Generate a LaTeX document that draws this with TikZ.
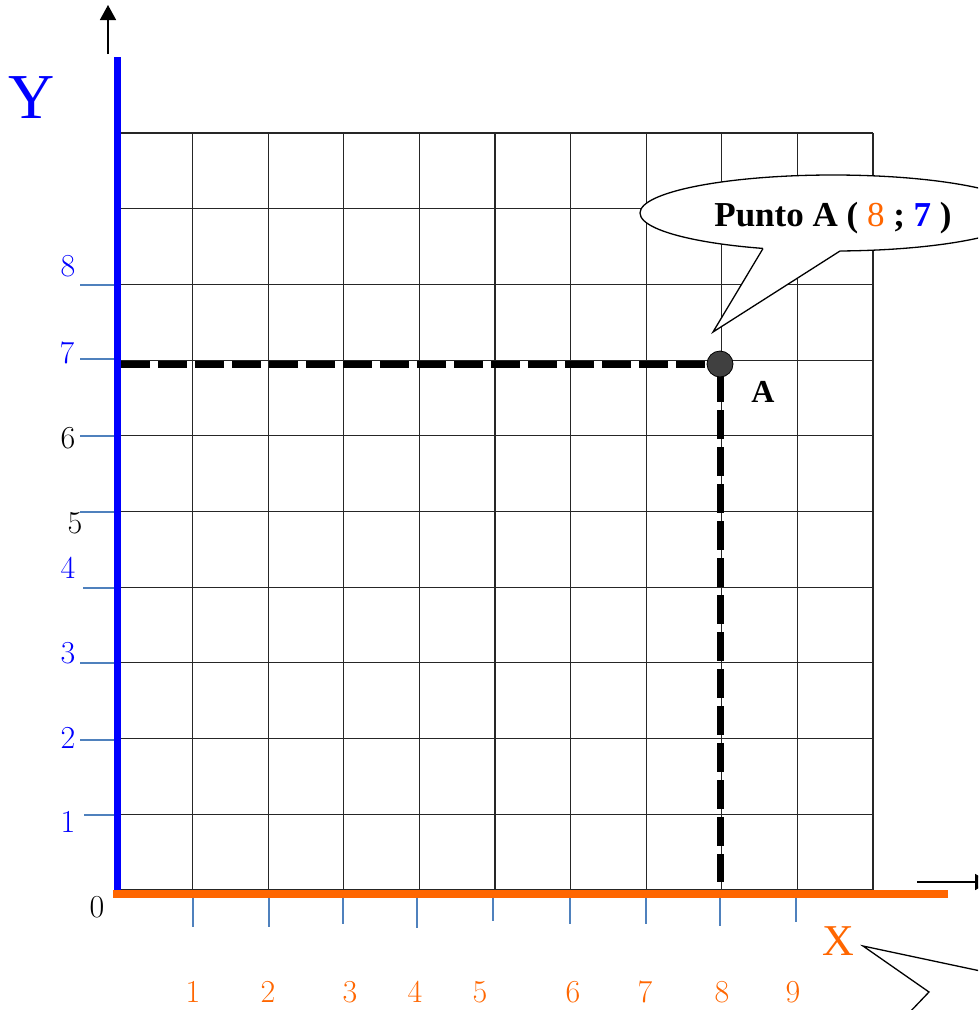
\documentclass[tikz,border=0pt]{standalone}
\usepackage{fontspec}
\newfontfamily\tms{Liberation Serif}
\usetikzlibrary{arrows.meta}
\definecolor{axblue}{RGB}{0,0,255}
\definecolor{axorange}{RGB}{255,102,0}
\definecolor{tickblue}{RGB}{79,129,189}
\definecolor{ptgray}{RGB}{64,64,64}
\tikzset{
  gridline/.style={draw=black!85, line width=1.1pt},
  tickline/.style={draw=tickblue, line width=2pt},
  ylab/.style={font=\fontsize{32}{32}\selectfont, text=axblue, inner sep=0pt},
  xlab/.style={font=\fontsize{32}{32}\selectfont, text=axorange, inner sep=0pt},
  blab/.style={font=\fontsize{32}{32}\selectfont, text=black, inner sep=0pt},
  dashline/.style={draw=black, line width=7pt, dash pattern=on 29pt off 8pt},
  callout/.style={draw=black, line width=1.3pt, fill=white},
}
\begin{document}
\begin{tikzpicture}[x=1pt,y=-1pt]
\useasboundingbox (0,0) rectangle (978,1010);
\clip (0,0) rectangle (978,1010);
% grid
\foreach \i in {0,...,10} {
  \draw[gridline] ({117+75.6*\i},133) -- ({117+75.6*\i},890);
  \draw[gridline] (117,{133+75.7*\i}) -- (873,{133+75.7*\i});
}
% left ticks
\foreach \y/\xa in {285/80,359/80,436/80,512/80,588/83,663/80,740/80,815/84} {
  \draw[tickline] (\xa,\y) -- (115,\y);
}
% bottom ticks
\foreach \x/\ye in {193/927,269/927,343/924,417/928,493/921,570/924,646/924,720/926,796/922} {
  \draw[tickline] (\x,893) -- (\x,\ye);
}
% axes
\draw[draw=axblue, line width=7pt] (117,57) -- (117,892);
\draw[draw=axorange, line width=8pt] (113,894) -- (948,894);
% axis arrows
\coordinate (ytail) at (108,54);
\coordinate (yhead) at (108,5);
\draw[line width=1.5pt, -{Triangle[length=15pt,width=16pt]}] (ytail) -- (yhead);
\coordinate (xtail) at (917,882);
\coordinate (xhead) at (990,882);
\draw[line width=1.5pt, -{Triangle[length=15pt,width=16pt]}] (xtail) -- (xhead);
% axis labels
\node[font=\tms\fontsize{64}{64}\selectfont, text=axblue, inner sep=0pt] (Ylab) at (32,98) {Y};
\node[font=\tms\fontsize{44}{44}\selectfont, text=axorange, inner sep=0pt] (Xlab) at (838,941) {X};
% y tick labels
\node[ylab] (y8) at (68,266) {8};
\node[ylab] (y7) at (67,353) {7};
\node[blab] (y6) at (68,438) {6};
\node[blab] (y5) at (75,523) {5};
\node[ylab] (y4) at (68,568) {4};
\node[ylab] (y3) at (68,653) {3};
\node[ylab] (y2) at (68,738) {2};
\node[ylab] (y1) at (68,822) {1};
\node[blab] (o) at (97,907) {0};
% x tick labels
\foreach \x/\t in {193/1,268/2,350/3,415/4,480/5,573/6,645/7,722/8,793/9} {
  \node[xlab] (x\t) at (\x,992) {\t};
}
% dashed projections
\coordinate (hstart) at (121,364);
\coordinate (vend) at (720,882);
\draw[dashline] (hstart) -- (708,364);
\draw[dashline] (720,373) -- (vend);
% point A
\node[circle, fill=ptgray, draw=black, line width=0.8pt, minimum size=26pt, inner sep=0pt] (A) at (720,364) {};
\node[font=\tms\bfseries\fontsize{32}{32}\selectfont, inner sep=0pt] (Alab) at (763,392) {A};
% callout for A
\fill[white] (833,213) ellipse [x radius=193pt, y radius=38pt];
\draw[line width=1.3pt] (833,213) ellipse [x radius=193pt, y radius=38pt];
\fill[white] (763,248.5) -- (713,332) -- (840,251) -- (840,238) -- (763,238) -- cycle;
\coordinate (tailL) at (763,248.5);
\coordinate (tailR) at (840,251);
\coordinate (tailTip) at (713,332);
\draw[line width=1.3pt, line join=miter] (tailL) -- (tailTip) -- (tailR);
\node[font=\tms\bfseries\fontsize{35}{35}\selectfont, inner sep=0pt] (callA) at (833,218)
  {Punto A ( \textcolor{axorange}{\mdseries 8} ; \textcolor{axblue}{7} )};
% partial callout for X
\coordinate (xtip) at (863,946);
\draw[line width=1.3pt, line join=miter] (990,973) -- (xtip) -- (929,992) -- (908,1014);
\end{tikzpicture}
\end{document}
